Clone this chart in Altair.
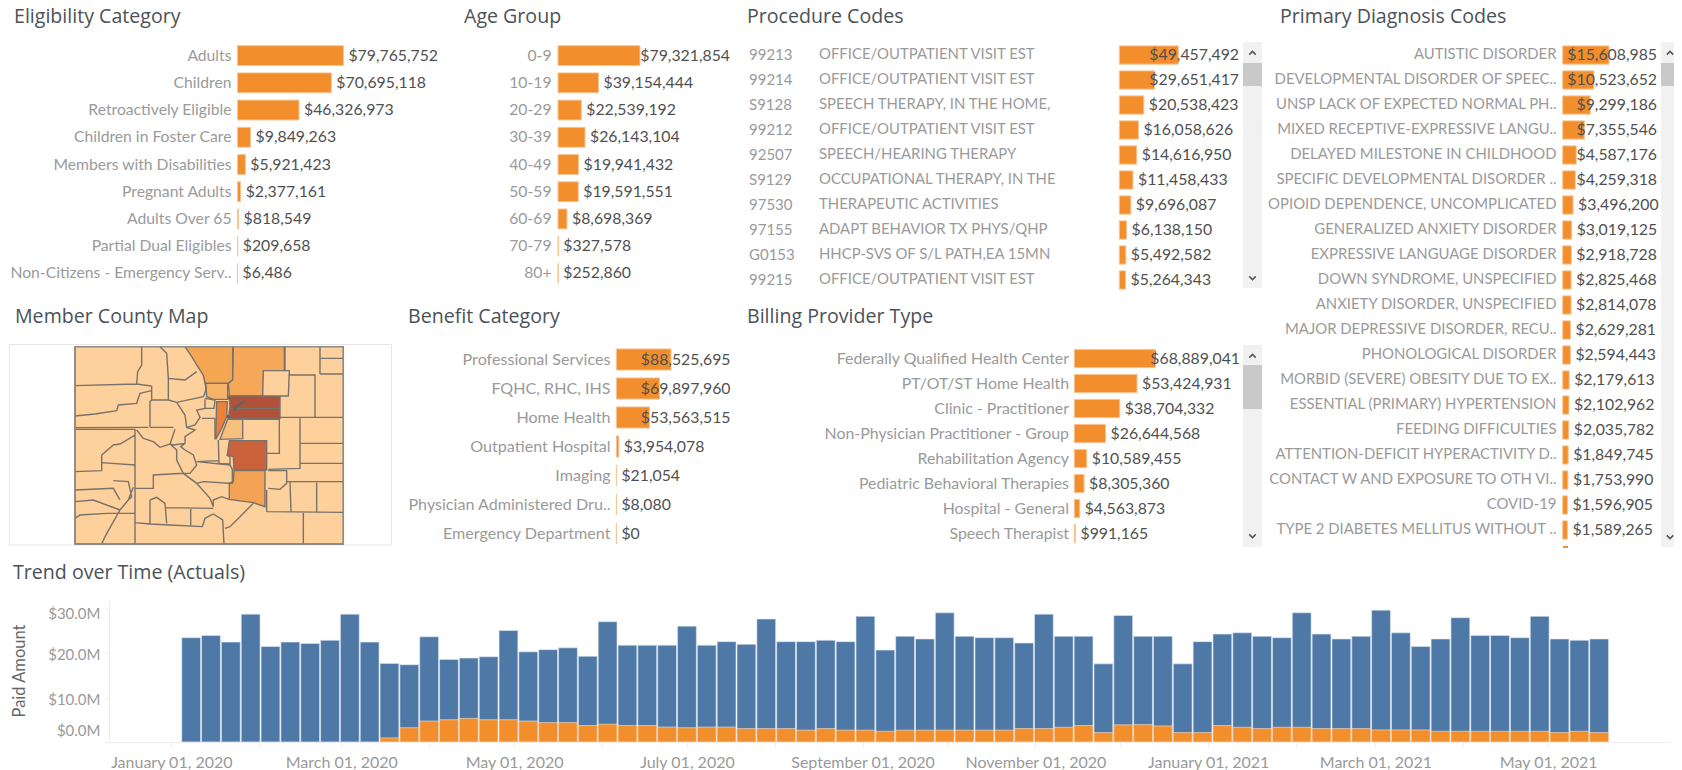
import altair as alt
import pandas as pd

FONT = "Lato"
TITLE_FONT = "Open Sans"
ORANGE = "#F28E2B"
HALO = "#F8C596"
BLUE = "#4E79A7"
LABEL_C = "#9a9a9a"
VALUE_C = "#505050"
TITLE_C = "#4b5258"
M = 8  # page margin
H = 762

elig_names = ["Adults", "Children", "Retroactively Eligible", "Children in Foster Care", "Members with Disabilities",
              "Pregnant Adults", "Adults Over 65", "Partial Dual Eligibles", "Non-Citizens - Emergency Serv.."]
elig_vals = [79765752, 70695118, 46326973, 9849263, 5921423, 2377161, 818549, 209658, 6486]

age_names = ["0-9", "10-19", "20-29", "30-39", "40-49", "50-59", "60-69", "70-79", "80+"]
age_vals = [79321854, 39154444, 22539192, 26143104, 19941432, 19591551, 8698369, 327578, 252860]

proc_codes = ["99213", "99214", "S9128", "99212", "92507", "S9129", "97530", "97155", "G0153", "99215"]
proc_desc = ["OFFICE/OUTPATIENT VISIT EST", "OFFICE/OUTPATIENT VISIT EST", "SPEECH THERAPY, IN THE HOME,",
             "OFFICE/OUTPATIENT VISIT EST", "SPEECH/HEARING THERAPY", "OCCUPATIONAL THERAPY, IN THE",
             "THERAPEUTIC ACTIVITIES", "ADAPT BEHAVIOR TX PHYS/QHP", "HHCP-SVS OF S/L PATH,EA 15MN",
             "OFFICE/OUTPATIENT VISIT EST"]
proc_vals = [49457492, 29651417, 20538423, 16058626, 14616950, 11458433, 9696087, 6138150, 5492582, 5264343]

diag_names = ["AUTISTIC DISORDER", "DEVELOPMENTAL DISORDER OF SPEEC..", "UNSP LACK OF EXPECTED NORMAL PH..",
              "MIXED RECEPTIVE-EXPRESSIVE LANGU..", "DELAYED MILESTONE IN CHILDHOOD",
              "SPECIFIC DEVELOPMENTAL DISORDER ..", "OPIOID DEPENDENCE, UNCOMPLICATED",
              "GENERALIZED ANXIETY DISORDER", "EXPRESSIVE LANGUAGE DISORDER", "DOWN SYNDROME, UNSPECIFIED",
              "ANXIETY DISORDER, UNSPECIFIED", "MAJOR DEPRESSIVE DISORDER, RECU..", "PHONOLOGICAL DISORDER",
              "MORBID (SEVERE) OBESITY DUE TO EX..", "ESSENTIAL (PRIMARY) HYPERTENSION", "FEEDING DIFFICULTIES",
              "ATTENTION-DEFICIT HYPERACTIVITY D..", "CONTACT W AND EXPOSURE TO OTH VI..", "COVID-19",
              "TYPE 2 DIABETES MELLITUS WITHOUT .."]
diag_vals = [15608985, 10523652, 9299186, 7355546, 4587176, 4259318, 3496200, 3019125, 2918728, 2825468,
             2814078, 2629281, 2594443, 2179613, 2102962, 2035782, 1849745, 1753990, 1596905, 1589265]

bene_names = ["Professional Services", "FQHC, RHC, IHS", "Home Health", "Outpatient Hospital", "Imaging",
              "Physician Administered Dru..", "Emergency Department"]
bene_vals = [88525695, 69897960, 53563515, 3954078, 21054, 8080, 0]

bill_names = ["Federally Qualified Health Center", "PT/OT/ST Home Health", "Clinic  - Practitioner",
              "Non-Physician Practitioner - Group", "Rehabilitation Agency", "Pediatric Behavioral Therapies",
              "Hospital - General", "Speech Therapist"]
bill_vals = [68889041, 53424931, 38704332, 26644568, 10589455, 8305360, 4563873, 991165]

# weekly totals and orange portion, $M
trend_total = [23.5, 24.0, 22.5, 28.8, 21.5, 22.5, 22.2, 22.9, 28.8, 22.5, 17.7, 17.4, 23.7, 18.6, 18.9, 19.2, 25.1,
               20.3, 20.8, 21.2, 19.3, 27.1, 21.8, 21.8, 21.8, 26.1, 21.8, 22.6, 22.0, 27.7, 22.6, 22.6, 22.9, 22.6,
               28.3, 20.7, 23.8, 23.2, 29.1, 23.8, 23.5, 23.5, 22.3, 28.8, 23.8, 23.8, 17.6, 28.5, 23.8, 23.8, 17.6,
               22.6, 24.3, 24.6, 23.8, 23.5, 29.1, 24.3, 23.2, 23.8, 29.7, 24.6, 21.5, 23.2, 28.0, 24.0, 24.0, 23.5,
               28.3, 23.2, 22.9, 23.2]
trend_orange = [0, 0, 0, 0, 0, 0, 0, 0, 0, 0, 0.9, 3.2, 4.7, 5.0, 5.3, 5.0, 5.0, 4.7, 4.35, 4.35, 3.7, 4.0, 3.7,
                3.7, 3.35, 3.2, 3.35, 3.35, 3.0, 3.0, 3.0, 2.65, 3.0, 2.65, 2.65, 2.4, 2.65, 2.65, 2.65, 2.65, 2.65,
                2.65, 3.0, 3.0, 3.3, 3.7, 2.1, 3.85, 3.9, 3.6, 2.1, 2.1, 3.7, 3.3, 3.0, 3.3, 3.3, 3.0, 3.0,
                3.0, 2.7, 2.7, 2.7, 2.4, 2.4, 2.4, 2.4, 2.4, 2.4, 2.1, 2.4, 2.1]
trend_dates = pd.date_range("2020-01-08", periods=72, freq="7D").strftime("%Y-%m-%d").tolist()
month_ticks = pd.date_range("2020-01-01", "2021-05-01", freq="MS").strftime("%Y-%m-%d").tolist()

# map geometry, in map units
map_outline = [[15, 20], [820, 20], [820, 612], [15, 612], [15, 20]]
map_shaded = [
    ("#F5A652", [[345, 20], [488, 20], [488, 120], [475, 130], [405, 130], [400, 105], [380, 75], [362, 45]]),
    ("#F6A858", [[490, 20], [643, 20], [643, 92], [580, 92], [578, 168], [478, 168], [475, 130], [488, 120]]),
    ("#F7B368", [[407, 130], [473, 130], [473, 178], [430, 178], [410, 170]]),
    ("#EE8038", [[440, 185], [472, 185], [470, 230], [455, 265], [437, 298]]),
    ("#F8C07C", [[473, 238], [518, 238], [518, 296], [450, 298]]),
    ("#B1513A", [[478, 168], [630, 168], [630, 235], [475, 235], [480, 200]]),
    ("#C9623A", [[478, 302], [590, 302], [590, 390], [492, 390], [490, 350], [472, 345]]),
    ("#F4A354", [[492, 392], [585, 392], [585, 500], [550, 488], [478, 478], [478, 430], [490, 425]]),
]
map_lines = [
    [[215, 20], [215, 75], [203, 95], [200, 132], [15, 137]],
    [[200, 132], [245, 138], [245, 178]],
    [[15, 228], [75, 222], [140, 212], [145, 195], [200, 190], [210, 160], [245, 152]],
    [[15, 263], [235, 262]],
    [[240, 183], [240, 262]],
    [[270, 20], [290, 40], [295, 115], [345, 120], [380, 95]],
    [[295, 115], [295, 180], [245, 180], [240, 185]],
    [[295, 180], [320, 187], [400, 170], [408, 150], [405, 125]],
    [[320, 187], [345, 225], [350, 262], [375, 255], [390, 232], [380, 210], [405, 205], [405, 178]],
    [[405, 175], [435, 180], [432, 205], [405, 205]],
    [[395, 235], [435, 235]],
    [[240, 262], [310, 262]],
    [[350, 262], [375, 270], [345, 290], [345, 310], [310, 315], [300, 312], [315, 268]],
    [[200, 270], [220, 295], [250, 305], [270, 322], [300, 312], [320, 330], [320, 360], [340, 400], [360, 400],
     [380, 375], [370, 345], [345, 330], [332, 320], [345, 310]],
    [[15, 268], [195, 268], [195, 285], [150, 312], [130, 315], [95, 345], [95, 392], [15, 395]],
    [[95, 368], [195, 375]],
    [[195, 285], [195, 612]],
    [[15, 450], [130, 445], [150, 480]],
    [[130, 422], [175, 425], [185, 470], [175, 480], [150, 510], [105, 590], [95, 612]],
    [[15, 485], [70, 480], [150, 510]],
    [[175, 480], [190, 442]],
    [[15, 535], [30, 525], [110, 520], [195, 520]],
    [[195, 445], [250, 445], [250, 405], [340, 400], [380, 430], [420, 475], [430, 500]],
    [[195, 548], [240, 552], [300, 555], [397, 560]],
    [[240, 480], [240, 552]],
    [[240, 480], [260, 472], [285, 490], [290, 550]],
    [[285, 503], [430, 505]],
    [[362, 503], [362, 556]],
    [[397, 560], [405, 535], [430, 522], [458, 540], [462, 612]],
    [[430, 500], [430, 480], [455, 470], [478, 478]],
    [[550, 490], [510, 530], [480, 560], [465, 565]],
    [[435, 235], [435, 298]],
    [[445, 300], [447, 370], [480, 372], [480, 350], [470, 345]],
    [[380, 365], [445, 362]],
    [[380, 365], [480, 375], [487, 388], [487, 430], [400, 425], [380, 430]],
    [[400, 425], [478, 430]],
    [[645, 20], [645, 92], [658, 92], [655, 168], [630, 168]],
    [[658, 105], [735, 105], [735, 232]],
    [[750, 20], [750, 102]],
    [[750, 55], [820, 55]],
    [[750, 102], [820, 102]],
    [[628, 232], [820, 232]],
    [[520, 238], [628, 238], [628, 340], [590, 340]],
    [[690, 235], [690, 385], [595, 388]],
    [[690, 310], [820, 310]],
    [[690, 370], [820, 370]],
    [[595, 392], [650, 392], [650, 430], [630, 448], [595, 445]],
    [[650, 425], [820, 425]],
    [[660, 425], [663, 515]],
    [[740, 428], [740, 515]],
    [[590, 515], [820, 517]],
    [[700, 517], [700, 612]],
    [[590, 450], [590, 515]],
    [[478, 205], [630, 205]],
]
map_lakes = [[[490, 210], [505, 195], [525, 183]], [[473, 172], [480, 176]], [[470, 228], [478, 232]]]


def px(v):
    return v - M


def text(t, x, y, size=19.6, color=TITLE_C, weight=500, align="left", angle=0, font=TITLE_FONT):
    return alt.Chart(pd.DataFrame({"t": [t]})).mark_text(
        font=font, fontSize=size, color=color, fontWeight=weight, align=align, baseline="middle", angle=angle
    ).encode(x=alt.value(px(x)), y=alt.value(px(y)), text="t:N")


def rect(x0, x1, y0, y1, fill, stroke=None):
    kw = {"stroke": stroke, "strokeWidth": 1} if stroke else {}
    return alt.Chart(pd.DataFrame({"a": [0]})).mark_rect(fill=fill, **kw).encode(
        x=alt.value(px(x0)), x2=alt.value(px(x1)), y=alt.value(px(y0)), y2=alt.value(px(y1)))


def chevron(x, y, up=True):
    shape = "M-1,0.5L0,-0.5L1,0.5" if up else "M-1,-0.5L0,0.5L1,-0.5"
    return alt.Chart(pd.DataFrame({"a": [0]})).mark_point(
        shape=shape, filled=False, stroke="#555555", strokeWidth=1.5, size=42, opacity=1
    ).encode(x=alt.value(px(x)), y=alt.value(px(y)))


def scrollbar(x0, x1, y0, y1, t0, t1, c0, c1):
    return [rect(x0, x1, y0, y1, "#f1f1f1"), rect(x0, x1, t0, t1, "#c9c9c9"),
            chevron((x0 + x1) / 2, c0, True), chevron((x0 + x1) / 2, c1, False)]


def panel(names, vals, x0, x1, y0, y1, lab_right, edge=None, split=None, axis_labels=True, lab_size=15.7):
    """Horizontal bars; values overflowing the pane are pinned right against its edge."""
    df = pd.DataFrame({"name": names, "v": vals})
    df["lab"] = ["$" + format(v, ",d") for v in vals]
    xs = alt.Scale(domain=[0, max(vals)], range=[px(x0), px(x1)], nice=False, zero=False)
    ys = alt.Scale(domain=list(names), range=[px(y0), px(y1)], paddingInner=0.27, paddingOuter=0.135)
    axis = alt.Axis(orient="left", offset=-px(lab_right), domain=False, ticks=False, grid=False, title=None,
                    labelPadding=0, labelColor=LABEL_C, labelFont=FONT, labelFontSize=lab_size, labelLimit=400) \
        if axis_labels else None
    out = [alt.Chart(df).mark_bar(color=ORANGE, stroke=HALO, strokeWidth=1).encode(
        x=alt.X("v:Q", scale=xs, axis=None),
        y=alt.Y("name:N", scale=ys, sort=None, axis=axis))]
    base = dict(font=FONT, fontSize=15.8, color=VALUE_C, baseline="middle")
    y_plain = alt.Y("name:N", scale=ys, sort=None, axis=None)
    if split is None:
        out.append(alt.Chart(df).mark_text(align="left", dx=5, **base).encode(
            x=alt.X("v:Q", scale=xs, axis=None), y=y_plain, text="lab:N"))
    else:
        out.append(alt.Chart(df).transform_filter(f"datum.v <= {split}").mark_text(align="left", dx=5, **base).encode(
            x=alt.X("v:Q", scale=xs, axis=None), y=y_plain, text="lab:N"))
        out.append(alt.Chart(df).transform_filter(f"datum.v > {split}").mark_text(align="right", **base).encode(
            x=alt.value(px(edge)), y=y_plain, text="lab:N"))
    return out


layers = []

# titles
for t, x, y in [("Eligibility Category", 14, 17), ("Age Group", 464, 17), ("Procedure Codes", 747, 17),
                ("Primary Diagnosis Codes", 1280, 17), ("Member County Map", 15, 317),
                ("Benefit Category", 408, 317), ("Billing Provider Type", 747, 317),
                ("Trend over Time (Actuals)", 13, 573)]:
    layers.append(text(t, x, y))

# scrollbars
layers += scrollbar(1243, 1262, 42, 288, 63, 86, 53, 278)
layers += scrollbar(1661, 1679, 42, 547, 63, 86, 53, 537)
layers += scrollbar(1243, 1262, 345, 547, 365, 409, 356, 536)

# bar panels
layers += panel(elig_names, elig_vals, 237.5, 343.4, 42, 287, 231)
layers += panel(age_names, age_vals, 558, 640, 42, 287, 551, edge=730, split=60000000)
layers += panel(proc_codes, proc_vals, 1119.3, 1178.3, 42.5, 292.5, 0, edge=1239, split=25000000, axis_labels=False)
layers += panel(diag_names, diag_vals, 1562.7, 1609, 42.5, 542.5, 1556, edge=1657, split=4000000, lab_size=14.9)
layers += panel(bene_names, bene_vals, 616.4, 671, 345, 548, 610, edge=730.5, split=50000000, lab_size=16.1)
layers += panel(bill_names, bill_vals, 1074.3, 1155.2, 346, 546, 1068.5, edge=1240, split=60000000, lab_size=15.9)

# tiny cut-off bar at the foot of the diagnosis list
layers.append(rect(1563, 1568, 546, 548, ORANGE))

# procedure code and description columns
proc_df = pd.DataFrame({"code": proc_codes, "desc": proc_desc})
proc_y = alt.Y("code:N", sort=None, axis=None,
               scale=alt.Scale(domain=proc_codes, range=[px(42.5), px(292.5)], paddingInner=0.27, paddingOuter=0.135))
layers.append(alt.Chart(proc_df).mark_text(font=FONT, fontSize=15, color=LABEL_C, align="left", baseline="middle").encode(
    x=alt.value(px(749)), y=proc_y, text="code:N"))
layers.append(alt.Chart(proc_df).mark_text(font=FONT, fontSize=14.9, color=LABEL_C, align="left", baseline="middle").encode(
    x=alt.value(px(819)), y=proc_y, text="desc:N"))

# map
map_proj = dict(type="identity", scale=1 / 3, translate=[70 - M, 340 - M])
LINE = "#77726b"
layers.append(rect(9.5, 391.5, 344.5, 545, "#ffffff", "#e6e6e6"))
base_feat = {"type": "Feature", "properties": {"c": "#FDD09C"},
             "geometry": {"type": "Polygon", "coordinates": [map_outline[::-1]]}}
shade_feats = [{"type": "Feature", "properties": {"c": c},
                "geometry": {"type": "Polygon", "coordinates": [(p + [p[0]])[::-1]]}} for c, p in map_shaded]
line_feat = {"type": "Feature", "properties": {},
             "geometry": {"type": "MultiLineString", "coordinates": map_lines}}
outline_feat = {"type": "Feature", "properties": {},
                "geometry": {"type": "MultiLineString", "coordinates": [map_outline]}}
lake_feat = {"type": "Feature", "properties": {},
             "geometry": {"type": "MultiLineString", "coordinates": map_lakes}}
layers.append(alt.Chart(alt.Data(values=[base_feat] + shade_feats)).mark_geoshape(stroke=LINE, strokeWidth=1.4).encode(
    fill=alt.Fill("properties.c:N", scale=None)).project(**map_proj))
layers.append(alt.Chart(alt.Data(values=[line_feat])).mark_geoshape(
    filled=False, stroke=LINE, strokeWidth=1.4).project(**map_proj))
layers.append(alt.Chart(alt.Data(values=[outline_feat])).mark_geoshape(
    filled=False, stroke="#8e8b86", strokeWidth=1.2).project(**map_proj))
layers.append(alt.Chart(alt.Data(values=[lake_feat])).mark_geoshape(
    filled=False, stroke="#66635f", strokeWidth=2.6).project(**map_proj))

# trend
trend_df = pd.DataFrame({"d": trend_dates, "total": [t * 1e6 for t in trend_total],
                         "orange": [o * 1e6 for o in trend_orange]})
tx = alt.Scale(type="time", domain=["2019-12-10", "2021-06-13"], range=[px(109), px(1670)], nice=False, padding=0)
ty = alt.Scale(domain=[0, 31540000], range=[px(741.9), px(602)], nice=False, zero=True)
x_axis = alt.Axis(orient="bottom", offset=-(H - px(741.9)), values=month_ticks, grid=False, title=None,
                  labelExpr="month(datum.value) % 2 == 0 ? timeFormat(datum.value, '%B %d, %Y') : ''",
                  labelFont=FONT, labelFontSize=16, labelColor=LABEL_C, labelPadding=8,
                  labelOverlap=False, labelFlush=False, labelAngle=0, domainColor="#ececec", tickColor="#ececec", tickSize=5)
y_axis = alt.Axis(orient="left", offset=-px(109), values=[0, 10000000, 20000000, 30000000], grid=False, title=None,
                  labelExpr="'$' + format(datum.value / 1000000, '.1f') + 'M'",
                  labelFont=FONT, labelFontSize=15, labelColor=LABEL_C, labelPadding=5, labelFlush=False,
                  labelOffset={"condition": [{"test": "datum.value === 0", "value": -11},
                                             {"test": "datum.value === 30000000", "value": 5}], "value": 1.5},
                  domainColor="#ececec", tickColor="#ececec", tickSize=4)
layers.append(alt.Chart(trend_df).mark_bar(size=18.8, color=BLUE, stroke="#dfe7f0", strokeWidth=0.6).encode(
    x=alt.X("d:T", scale=tx, axis=x_axis),
    y=alt.Y("total:Q", scale=ty, axis=y_axis)))
layers.append(alt.Chart(trend_df).transform_filter("datum.orange > 0").mark_bar(size=18.8, color=ORANGE, stroke="#fbe3cc", strokeWidth=0.6).encode(
    x=alt.X("d:T", scale=tx, axis=None),
    y=alt.Y("orange:Q", scale=ty, axis=None)))
layers.append(text("Paid Amount", 20, 671, size=16.5, color="#666666", weight=400, align="center", angle=270, font=FONT))

chart = alt.layer(*layers).resolve_scale(x="independent", y="independent").properties(
    width=1666, height=H, padding=0, autosize=alt.AutoSizeParams(type="none"), background="white"
).configure_view(stroke=None)

chart.save("out.html", embed_options={"renderer": "svg", "actions": False})
